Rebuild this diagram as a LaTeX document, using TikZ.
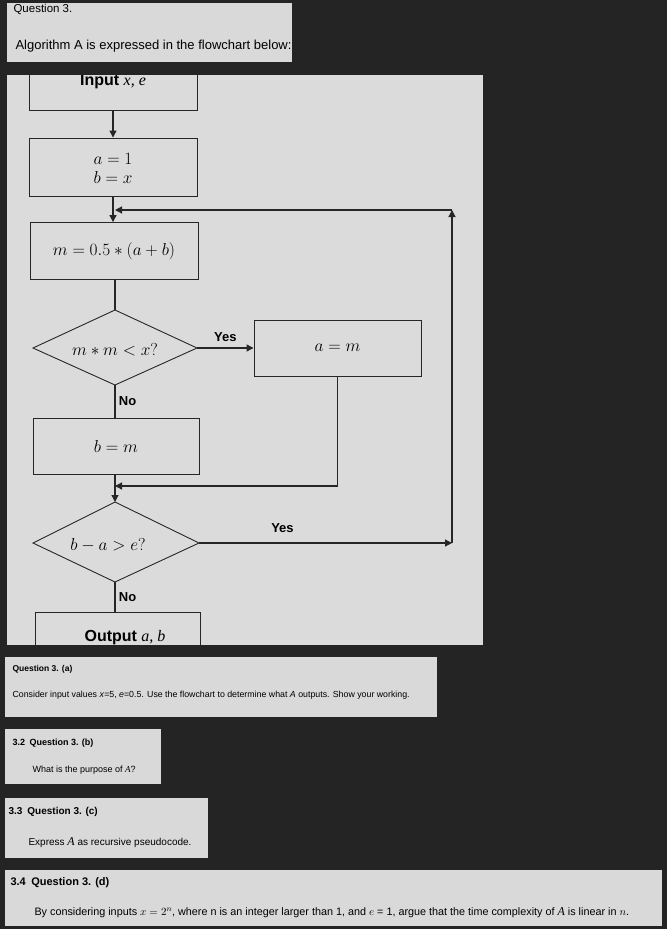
\documentclass[tikz,border=0pt]{standalone}
\usepackage{fontspec}
\setmainfont{Liberation Sans}
\newfontfamily\serf{Liberation Serif}
\usetikzlibrary{arrows.meta}
\begin{document}
\begin{tikzpicture}[x=1pt,y=-1pt,
  panel/.style={fill=black!15,draw=none},
  fbox/.style={draw=black!85,line width=0.9pt,fill=none},
  conn/.style={draw=black!85,line width=1.2pt},
  arr/.style={conn,-{Triangle[length=7pt,width=7pt]}},
  mtxt/.style={font=\fontsize{16}{19}\selectfont},
  lbl/.style={font=\bfseries\fontsize{13}{15}\selectfont},
  small/.style={font=\fontsize{8}{10}\selectfont,anchor=west},
  head/.style={font=\bfseries\fontsize{8.5}{10}\selectfont,anchor=west}]
\fill[black!86] (0,0) rectangle (667,929);
\useasboundingbox (0,0) rectangle (667,929);
% top panel
\fill[panel] (7,3) rectangle (292,62);
\node[anchor=west,font=\fontsize{11.5}{13}\selectfont] (q3) at (10,9) {Question 3.};
\node[anchor=west,font=\fontsize{13}{15}\selectfont] (alg) at (12,46) {Algorithm A is expressed in the flowchart below:};
% flowchart panel
\fill[black!14] (7,75) rectangle (483,645);
\begin{scope}
\clip (7,75) rectangle (483,645);
\node[fbox,minimum width=168pt,minimum height=50pt] (inp) at (113,85) {};
\node[font=\bfseries\fontsize{16}{18}\selectfont] (inpt) at (113,82) {Input {\serf\itshape\mdseries x, e}};
\node[fbox,minimum width=168pt,minimum height=58pt] (init) at (113,167) {};
\node[mtxt,align=center] (initt) at (113,168) {$a = 1$\\$b = x$};
\node[fbox,minimum width=168pt,minimum height=57pt,mtxt] (mid) at (114,251) {$m = 0.5 * (a + b)$};
% diamond 1
\coordinate (d1t) at (115,310); \coordinate (d1r) at (197,348);
\coordinate (d1b) at (115,385); \coordinate (d1l) at (33,348);
\draw[fbox] (d1t) -- (d1r) -- (d1b) -- (d1l) -- cycle;
\node[mtxt] (d1) at (115,350) {$m * m < x?$};
\node[fbox,minimum width=167pt,minimum height=56pt,mtxt] (am) at (337.5,348) {$a = m$};
\node[fbox,minimum width=166pt,minimum height=56pt,mtxt] (bm) at (116,446) {$b = m$};
% diamond 2
\coordinate (d2t) at (115,502); \coordinate (d2r) at (199,543);
\coordinate (d2b) at (115,582); \coordinate (d2l) at (33,543);
\draw[fbox] (d2t) -- (d2r) -- (d2b) -- (d2l) -- cycle;
\node[mtxt] (d2) at (108,545) {$b - a > e?$};
\node[fbox,minimum width=165pt,minimum height=60pt] (out) at (117.5,642) {};
\node[font=\bfseries\fontsize{16}{18}\selectfont] (outt) at (125,638) {Output {\serf\itshape\mdseries a, b}};
% junctions
\coordinate (j1) at (115,210); \coordinate (j2) at (115,486);
\coordinate (rt) at (452,210); \coordinate (rb) at (452,543);
\coordinate (amb) at (337.5,486);
% connectors
\draw[arr] (inp.south) -- (init.north);
\draw[arr] (init.south) -- (mid.north -| init.south);
\draw[conn] (mid.south -| d1t) -- (d1t);
\draw[arr] (d1r) -- (am.west) node[midway,above=2pt,lbl] {Yes};
\draw[conn] (d1b) -- (bm.north -| d1b) node[midway,right,lbl] {No};
\draw[arr] (bm.south -| d2t) -- (d2t);
\draw[arr] (am.south) -- (amb) -- (j2);
\draw[arr] (d2r) -- (rb) node[pos=0.33,above=6pt,lbl] {Yes};
\draw[arr] (rb) -- (rt);
\draw[arr] (rt) -- (j1);
\draw[conn] (d2b) -- (out.north -| d2b) node[midway,right,lbl] {No};
\end{scope}
% question panels
\fill[panel] (5,657) rectangle (437,717);
\node[head] (qa) at (9,669) {Question 3. (a)};
\node[small,font=\fontsize{8.8}{10}\selectfont] (qat) at (9,695) {Consider input values \textit{x}=5, \textit{e}=0.5. Use the flowchart to determine what \textit{A} outputs. Show your working.};
\fill[panel] (5,729) rectangle (161,784);
\node[head,font=\bfseries\fontsize{9}{10}\selectfont] (qb) at (9,743) {3.2\enspace Question 3. (b)};
\node[small,font=\fontsize{9}{10}\selectfont] (qbt) at (29,770) {What is the purpose of {\serf\itshape A}?};
\fill[panel] (5,798) rectangle (208,858);
\node[head,font=\bfseries\fontsize{10}{11}\selectfont] (qc) at (5,812) {3.3\enspace Question 3. (c)};
\node[small,font=\fontsize{10}{11}\selectfont] (qct) at (25,843) {Express {\serf\itshape\large A} as recursive pseudocode.};
\fill[panel] (5,870) rectangle (662,926);
\node[head,font=\bfseries\fontsize{11}{12}\selectfont] (qd) at (7,883) {3.4\enspace Question 3. (d)};
\node[small,font=\fontsize{10.8}{12}\selectfont] (qdt) at (31,913) {By considering inputs $x = 2^n$, where n is an integer larger than 1, and $e$ = 1, argue that the time complexity of {\serf\itshape\large A} is linear in $n$.};
\end{tikzpicture}
\end{document}
